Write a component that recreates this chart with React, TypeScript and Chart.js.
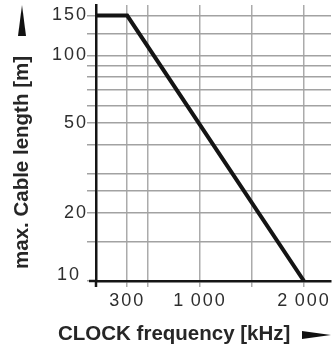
import React, { useEffect, useRef } from 'react';
import { Chart, registerables } from 'chart.js';

Chart.register(...registerables);

// ---- data ----
const FREQ_KHZ = [0, 300, 2000];
const CABLE_M = [150, 150, 10];

const X_GRID = [300, 500, 1000, 1500, 2000];
const X_LABELS = [300, 1000, 2000];
const Y_GRID = [10, 15, 20, 25, 30, 40, 50, 60, 70, 80, 90, 100, 125, 150];
const Y_LABELS = [10, 20, 50, 100, 150];

const X_TITLE = 'CLOCK frequency [kHz]';
const Y_TITLE = 'max. Cable length [m]';

const X_MIN = 0;
const X_MAX = 2260;
const Y_MIN = 10;
const Y_MAX = 167;

const TEXT = '#262626';
const TICK_TEXT = '#2e2e2e';
const GRID = '#ababab';
const GRID_Y = '#a2a2a2';
const AXIS = '#151515';

const fmtK = (v: number) =>
  v >= 1000 ? `${Math.floor(v / 1000)}\u2009${String(v % 1000).padStart(3, '0')}` : String(v);

const spacingPlugin = {
  id: 'tickSpacing',
  beforeDraw(chart: any) {
    chart.ctx.letterSpacing = '2px';
  },
};

const titlesPlugin = {
  id: 'titlesArrows',
  afterDraw(chart: any) {
    const { ctx, chartArea } = chart;
    const { left, bottom } = chartArea;
    ctx.save();
    ctx.letterSpacing = '0px';
    // axis extensions (cross at origin)
    ctx.strokeStyle = AXIS;
    ctx.lineWidth = 2.5;
    ctx.beginPath();
    ctx.moveTo(left - 7, bottom);
    ctx.lineTo(left, bottom);
    ctx.moveTo(left, bottom);
    ctx.lineTo(left, bottom + 6);
    ctx.stroke();

    ctx.fillStyle = TEXT;
    ctx.font = 'bold 20.5px "Liberation Sans", Arial, sans-serif';
    ctx.textBaseline = 'alphabetic';
    ctx.textAlign = 'left';
    // x title
    ctx.fillText(X_TITLE, 58, 340);
    // x arrow
    ctx.fillStyle = '#111';
    ctx.beginPath();
    ctx.moveTo(302, 331);
    ctx.lineTo(331, 335);
    ctx.lineTo(302, 339);
    ctx.closePath();
    ctx.fill();

    // y title
    ctx.fillStyle = TEXT;
    ctx.save();
    ctx.translate(28, 269);
    ctx.rotate(-Math.PI / 2);
    ctx.fillText(Y_TITLE, 0, 0);
    ctx.restore();
    // y arrow
    ctx.fillStyle = '#111';
    ctx.beginPath();
    ctx.moveTo(18, 36);
    ctx.lineTo(22, 5);
    ctx.lineTo(26, 36);
    ctx.closePath();
    ctx.fill();
    ctx.restore();
  },
};

export default function App() {
  const ref = useRef<HTMLCanvasElement | null>(null);

  useEffect(() => {
    document.body.style.margin = '0';
    const canvas = ref.current;
    if (!canvas) return;
    const chart = new Chart(canvas, {
      type: 'line',
      data: {
        datasets: [
          {
            data: FREQ_KHZ.map((x, i) => ({ x, y: CABLE_M[i] })),
            borderColor: '#141414',
            borderWidth: 4,
            pointRadius: 0,
            tension: 0,
            fill: false,
            borderJoinStyle: 'miter',
          },
        ],
      },
      options: {
        animation: false,
        responsive: false,
        devicePixelRatio: 1,
        events: [],
        layout: { padding: { top: 5, right: 1, bottom: 0, left: 0 } },
        plugins: {
          legend: { display: false },
          tooltip: { enabled: false },
          title: { display: false },
        },
        scales: {
          x: {
            type: 'linear',
            min: X_MIN,
            max: X_MAX,
            afterBuildTicks: (s: any) => {
              s.ticks = X_GRID.map((v) => ({ value: v }));
            },
            afterFit: (s: any) => {
              s.height = 348 - 281;
              s.paddingLeft = 0;
              s.paddingRight = 0;
            },
            grid: { color: GRID, lineWidth: 1.5, tickLength: 6, drawTicks: true },
            border: { display: true, color: AXIS, width: 2.5 },
            ticks: {
              autoSkip: false,
              maxRotation: 0,
              padding: 3,
              color: TICK_TEXT,
              font: { family: '"Liberation Sans", Arial, sans-serif', size: 18 },
              callback: (v: any) => (X_LABELS.includes(Number(v)) ? fmtK(Number(v)) : ''),
            },
          },
          y: {
            type: 'logarithmic',
            min: Y_MIN,
            max: Y_MAX,
            afterBuildTicks: (s: any) => {
              s.ticks = Y_GRID.map((v) => ({ value: v }));
            },
            afterFit: (s: any) => {
              s.width = 96;
              s.paddingTop = 0;
              s.paddingBottom = 0;
            },
            grid: { color: GRID_Y, lineWidth: 1.5, tickLength: 9, drawTicks: true },
            border: { display: true, color: AXIS, width: 2.5 },
            ticks: {
              autoSkip: false,
              padding: -1,
              color: TICK_TEXT,
              font: { family: '"Liberation Sans", Arial, sans-serif', size: 18, lineHeight: '12px' },
              callback: (v: any) => {
                const n = Number(v);
                if (!Y_LABELS.includes(n)) return '';
                return n === Y_MIN ? [`${n} `, ''] : String(n);
              },
            },
          },
        },
      },
      plugins: [spacingPlugin, titlesPlugin],
    } as any);
    return () => chart.destroy();
  }, []);

  return (
    <div style={{ width: 332, height: 348, position: 'relative' }}>
      <canvas ref={ref} width={332} height={348} style={{ display: 'block', width: 332, height: 348 }} />
    </div>
  );
}
